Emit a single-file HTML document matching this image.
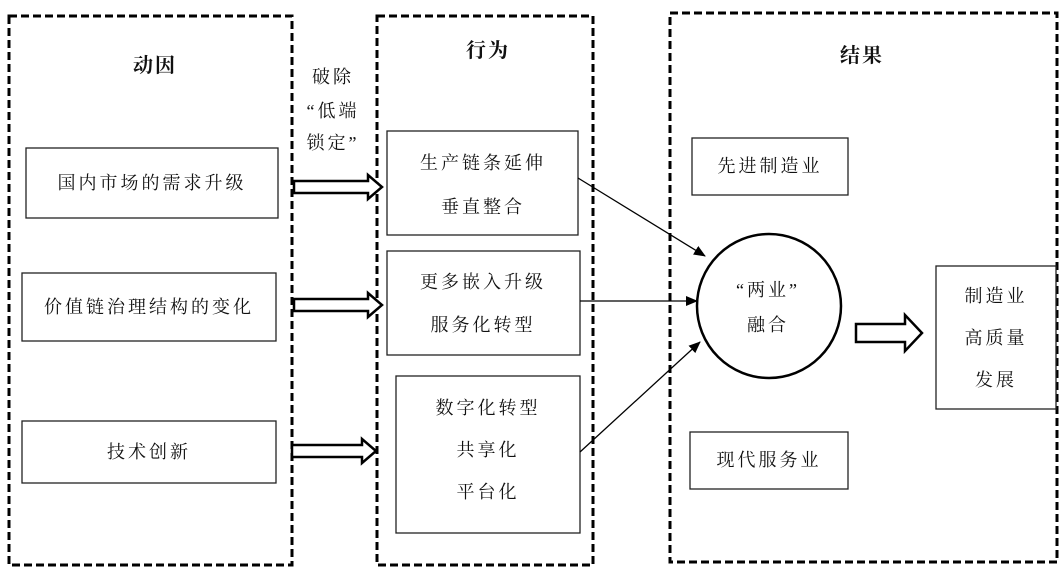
<!DOCTYPE html>
<html><head><meta charset="utf-8"><style>
html,body{margin:0;padding:0;background:#fff;}
svg text{font-family:"Liberation Serif","Noto Serif CJK SC",serif;font-size:18px;fill:#111;text-anchor:middle;letter-spacing:3px;}
.b{font-weight:bold;font-size:20px;letter-spacing:2px;}
</style></head><body>
<svg width="1062" height="570" viewBox="0 0 1062 570" xmlns="http://www.w3.org/2000/svg">
<defs><marker id="ah" markerWidth="12" markerHeight="10" refX="11" refY="5" orient="auto" markerUnits="userSpaceOnUse"><path d="M0,0 L12,5 L0,10 z" fill="#000"/></marker></defs>
<g fill="none" stroke="#000" stroke-width="3" stroke-dasharray="8,4">
<rect x="9" y="16" width="283" height="549"/>
<rect x="377" y="16" width="216" height="549"/>
<rect x="670" y="13" width="387" height="549"/>
</g>
<g fill="#fff" stroke="#222" stroke-width="1.3">
<rect x="26" y="148" width="252" height="70"/>
<rect x="22" y="273" width="254" height="68"/>
<rect x="22" y="421" width="254" height="62"/>
<rect x="387" y="131" width="191" height="104"/>
<rect x="387" y="251" width="193" height="104"/>
<rect x="396" y="376" width="184" height="157"/>
<rect x="692" y="138" width="156" height="57"/>
<rect x="690" y="432" width="158" height="57"/>
<rect x="936" y="266" width="120" height="143"/>
</g>
<circle cx="769" cy="306" r="72" fill="#fff" stroke="#000" stroke-width="2.5"/>
<g stroke="#000" stroke-width="1.3" fill="none" marker-end="url(#ah)">
<line x1="578" y1="178" x2="705" y2="256"/>
<line x1="580" y1="301" x2="697" y2="301"/>
<line x1="580" y1="452" x2="700" y2="342"/>
</g>
<g fill="#fff" stroke="#000" stroke-width="2.5">
<path d="M294,181 H368 V175 L382,187 L368,199 V193 H294 Z"/>
<path d="M294,299 H368 V293 L382,305 L368,317 V311 H294 Z"/>
<path d="M292,445 H362 V439 L376,451 L362,463 V457 H292 Z"/>
<path d="M856,324 H905 V315 L922,333 L905,351 V342 H856 Z"/>
</g>
<text class="b" x="155" y="72">动因</text>
<text class="b" x="488" y="57">行为</text>
<text class="b" x="862" y="62">结果</text>
<text x="333" y="83">破除</text>
<text x="333" y="117">“低端</text>
<text x="333" y="149">锁定”</text>
<text x="152" y="189">国内市场的需求升级</text>
<text x="149" y="313">价值链治理结构的变化</text>
<text x="149" y="458">技术创新</text>
<text x="483" y="169">生产链条延伸</text>
<text x="483" y="213">垂直整合</text>
<text x="483" y="288">更多嵌入升级</text>
<text x="483" y="331">服务化转型</text>
<text x="488" y="414">数字化转型</text>
<text x="488" y="456">共享化</text>
<text x="488" y="498">平台化</text>
<text x="770" y="172">先进制造业</text>
<text x="769" y="466">现代服务业</text>
<text x="768" y="296">“两业”</text>
<text x="768" y="331">融合</text>
<text x="996" y="302">制造业</text>
<text x="996" y="344">高质量</text>
<text x="996" y="386">发展</text>
</svg>
</body></html>
